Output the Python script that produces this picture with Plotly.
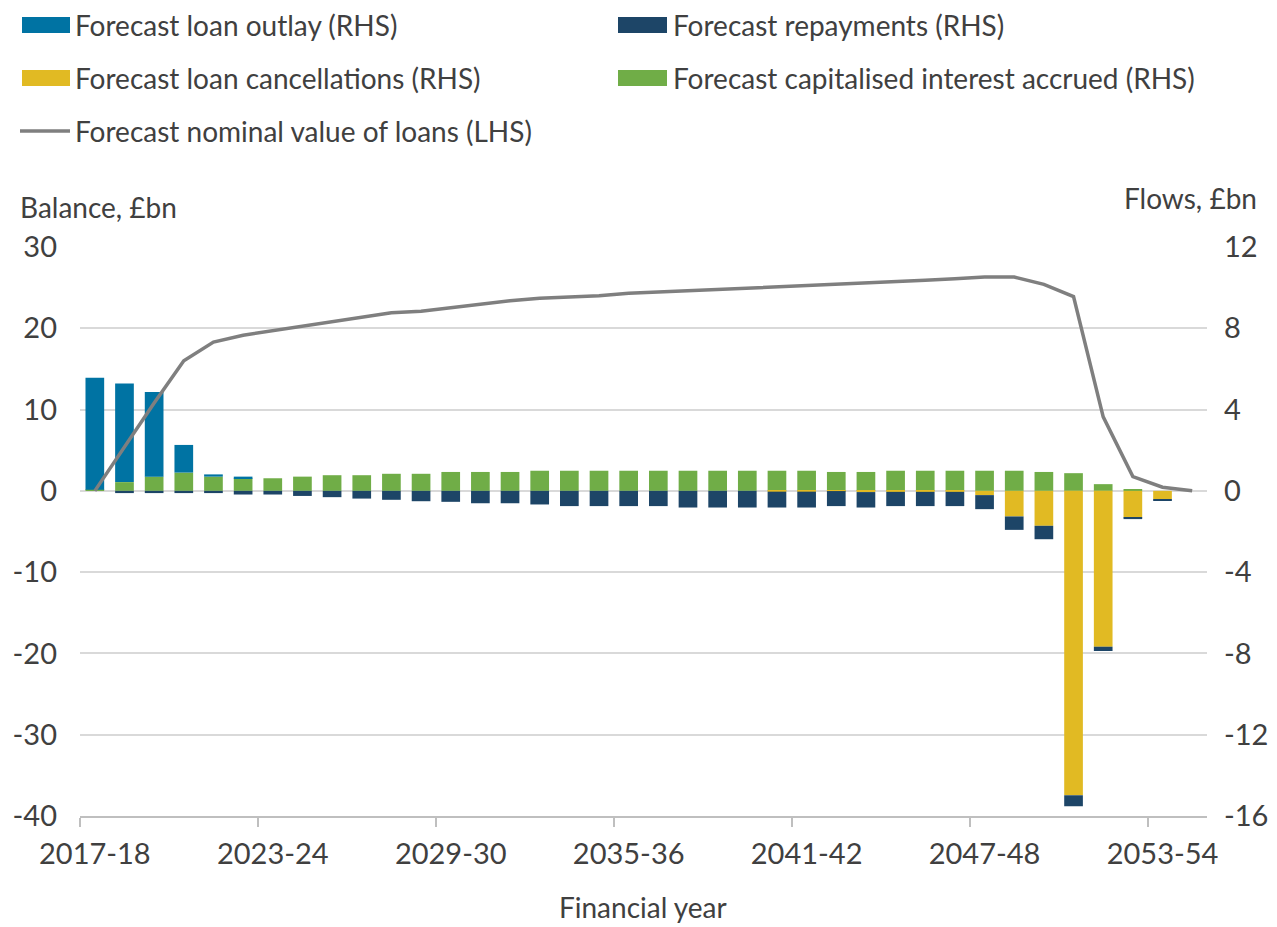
import plotly.graph_objects as go

# ---------------- data ----------------
years = [f"{y}-{str(y + 1)[2:]}" for y in range(2017, 2055)]

outlay = [5.52, 4.85, 4.16, 1.36, 0.11, 0.08, 0, 0, 0, 0,
          0, 0, 0, 0, 0, 0, 0, 0, 0, 0,
          0, 0, 0, 0, 0, 0, 0, 0, 0, 0,
          0, 0, 0, 0, 0, 0, 0, 0]

repayments = [0, -0.11, -0.11, -0.11, -0.11, -0.18, -0.18, -0.25, -0.31, -0.38,
              -0.44, -0.51, -0.54, -0.61, -0.61, -0.67, -0.75, -0.75, -0.75, -0.75,
              -0.82, -0.82, -0.82, -0.78, -0.78, -0.74, -0.76, -0.70, -0.70, -0.70,
              -0.69, -0.66, -0.66, -0.54, -0.21, -0.08, -0.08, 0]

cancellations = [0, 0, 0, 0, 0, 0, 0, 0, 0, 0,
                 0, 0, 0, 0, 0, 0, 0, 0, 0, 0,
                 0, 0, 0, -0.04, -0.04, -0.01, -0.06, -0.05, -0.05, -0.05,
                 -0.21, -1.26, -1.72, -14.98, -7.67, -1.31, -0.41, 0]

interest = [0.05, 0.43, 0.70, 0.90, 0.70, 0.62, 0.62, 0.70, 0.77, 0.77,
            0.84, 0.84, 0.93, 0.93, 0.93, 0.99, 0.99, 0.99, 0.99, 0.99,
            0.99, 0.99, 0.99, 0.99, 0.99, 0.93, 0.93, 0.99, 0.99, 0.99,
            0.99, 0.99, 0.93, 0.87, 0.33, 0.05, 0, 0]

balance = [0.0, 5.4, 10.8, 16.0, 18.3, 19.15, 19.7, 20.3, 20.9, 21.45,
           21.9, 22.1, 22.55, 23.0, 23.4, 23.7, 23.85, 24.0, 24.3, 24.45,
           24.6, 24.8, 25.0, 25.15, 25.3, 25.45, 25.6, 25.75, 25.9, 26.1,
           26.3, 26.3, 25.4, 23.9, 9.1, 1.75, 0.45, 0.0]

left_ticks = [30, 20, 10, 0, -10, -20, -30, -40]
right_ticks = [12, 8, 4, 0, -4, -8, -12, -16]

names = ["Forecast loan outlay (RHS)", "Forecast repayments (RHS)",
         "Forecast loan cancellations (RHS)", "Forecast capitalised interest accrued (RHS)",
         "Forecast nominal value of loans (LHS)"]

# ---------------- style ----------------
C_OUT = "#0073A3"
C_REP = "#1D4567"
C_CAN = "#E1BA23"
C_INT = "#70AD47"
C_LINE = "#7F7F7F"
TXT = "#404040"
FONT = "Lato"
TICK_SIZE = 29
TEXT_SIZE = 28

# the page body adds an 8px margin; the figure is sized/positioned to compensate
OFF = 8
W, H = 1277 - OFF, 927 - OFF
L, R, T, B = 80 - OFF, 1207 - OFF, 247 - OFF, 816 - OFF


def px(x):
    """reference-image x pixel -> paper coordinate"""
    return (x - OFF - L) / (R - L)


def py(y):
    """reference-image y pixel -> paper coordinate"""
    return (B - (y - OFF)) / (B - T)


fig = go.Figure()

# bars on primary (right-side) axis; order controls stacking
fig.add_trace(go.Bar(x=years, y=interest, name=names[3], marker_color=C_INT,
                     marker_line_width=0, yaxis="y", showlegend=False))
fig.add_trace(go.Bar(x=years, y=outlay, name=names[0], marker_color=C_OUT,
                     marker_line_width=0, yaxis="y", showlegend=False))
fig.add_trace(go.Bar(x=years, y=cancellations, name=names[2], marker_color=C_CAN,
                     marker_line_width=0, yaxis="y", showlegend=False))
fig.add_trace(go.Bar(x=years, y=repayments, name=names[1], marker_color=C_REP,
                     marker_line_width=0, yaxis="y", showlegend=False))
# line on overlaying (left-side) axis so it is drawn on top
fig.add_trace(go.Scatter(x=years, y=balance, name=names[4], mode="lines",
                         line=dict(color=C_LINE, width=3.5), yaxis="y2",
                         showlegend=False))

fig.update_layout(
    width=W, height=H,
    margin=dict(l=L, r=W - R, t=T, b=H - B, autoexpand=False),
    paper_bgcolor="white", plot_bgcolor="white",
    barmode="relative", bargap=0.37,
    font=dict(family=FONT, color=TXT, size=TEXT_SIZE),
    showlegend=False,
    xaxis=dict(
        type="category", tickmode="linear", tick0=0, dtick=6,
        tickson="boundaries", ticks="outside", ticklen=9, tickwidth=2,
        tickcolor="#BFBFBF", showline=True, linecolor="#BFBFBF", linewidth=2,
        showgrid=False, tickfont=dict(size=TICK_SIZE, color=TXT),
        tickangle=0, ticklabelstandoff=11, automargin=False,
        range=[-0.5, 37.5],
    ),
    yaxis=dict(
        side="right", range=[-16, 12], tickmode="array",
        tickvals=right_ticks, ticktext=[str(v) for v in right_ticks],
        showgrid=True, gridcolor="#D9D9D9", gridwidth=1.5,
        zeroline=False, showline=False, ticks="", automargin=False,
        tickfont=dict(size=TICK_SIZE, color=TXT), ticklabelstandoff=16,
    ),
    yaxis2=dict(
        side="left", overlaying="y", range=[-40, 30], tickmode="array",
        tickvals=left_ticks, ticktext=[str(v) for v in left_ticks],
        showgrid=False, zeroline=False, showline=False, ticks="", automargin=False,
        tickfont=dict(size=TICK_SIZE, color=TXT), ticklabelstandoff=22,
    ),
)

annotations = [
    dict(text="Balance, £bn", x=px(18), y=py(207), xanchor="left", yanchor="middle",
         font=dict(size=TEXT_SIZE, color=TXT)),
    dict(text="Flows, £bn", x=px(1259), y=py(198), xanchor="right", yanchor="middle",
         font=dict(size=TEXT_SIZE, color=TXT)),
    dict(text="Financial year", x=px(643), y=py(907), xanchor="center", yanchor="middle",
         font=dict(size=TEXT_SIZE, color=TXT)),
]

shapes = []
# manual legend: (swatch x0, x1, row y, text x, colour, kind, name)
legend_items = [
    (22, 70, 25, 73, C_OUT, "bar", names[0]),
    (618, 667, 25, 671, C_REP, "bar", names[1]),
    (22, 70, 78, 73, C_CAN, "bar", names[2]),
    (618, 667, 78, 671, C_INT, "bar", names[3]),
    (20, 70, 131, 73, C_LINE, "line", names[4]),
]
for x0, x1, yc, tx, col, kind, nm in legend_items:
    if kind == "bar":
        shapes.append(dict(type="rect", xref="paper", yref="paper",
                           x0=px(x0), x1=px(x1), y0=py(yc + 8), y1=py(yc - 8),
                           fillcolor=col, line=dict(width=0)))
    else:
        shapes.append(dict(type="line", xref="paper", yref="paper",
                           x0=px(x0), x1=px(x1), y0=py(yc), y1=py(yc),
                           line=dict(color=col, width=3.5)))
    annotations.append(dict(text=nm, x=px(tx), y=py(yc), xanchor="left",
                            yanchor="middle", font=dict(size=TEXT_SIZE, color=TXT)))

for a in annotations:
    a.update(xref="paper", yref="paper", showarrow=False)

fig.update_layout(annotations=annotations, shapes=shapes)

fig.write_html("out.html")
